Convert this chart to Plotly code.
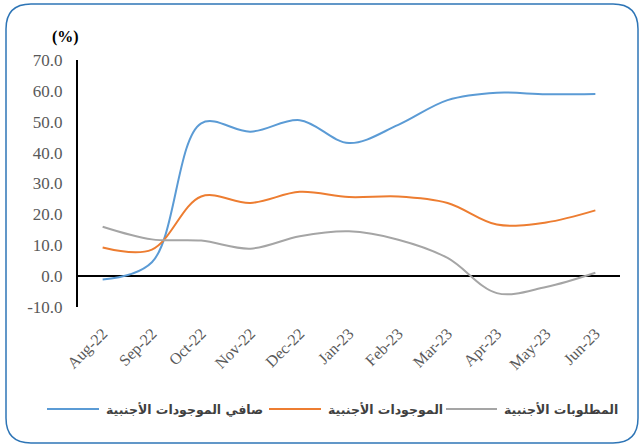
import plotly.graph_objects as go

months = ["Aug-22", "Sep-22", "Oct-22", "Nov-22", "Dec-22", "Jan-23",
          "Feb-23", "Mar-23", "Apr-23", "May-23", "Jun-23"]
net_assets = [-1.1, 4.5, 49.5, 46.8, 50.5, 43.1, 49.0, 57.0, 59.4, 58.9, 59.0]
assets = [9.3, 8.6, 25.8, 23.7, 27.3, 25.6, 25.8, 23.7, 16.7, 17.4, 21.3]
liabilities = [16.0, 11.9, 11.5, 8.9, 12.9, 14.5, 11.8, 5.9, -5.5, -3.5, 1.1]

names = ["صافي الموجودات الأجنبية", "الموجودات الأجنبية", "المطلوبات الأجنبية"]
colors = ["#5B9BD5", "#ED7D31", "#A5A5A5"]

y_tickvals = [-10, 0, 10, 20, 30, 40, 50, 60, 70]
y_ticktext = ["-10.0", "0.0", "10.0", "20.0", "30.0", "40.0", "50.0", "60.0", "70.0"]

SERIF = "Liberation Serif"

W, H = 643, 446
ML, MR, MT, MB = 78, 23, 60, 139
PW = W - ML - MR
PH = H - MT - MB

def px(x):
    return (x - ML) / PW

def py(y):
    return (H - MB - y) / PH

fig = go.Figure()
for vals, name, col in zip([net_assets, assets, liabilities], names, colors):
    fig.add_trace(go.Scatter(
        x=months, y=vals, name=name, mode="lines",
        line=dict(color=col, width=2, shape="spline", smoothing=1),
    ))

# rounded border
L, T, R, B, r = 6, 4, 638, 443, 25
path = (
    f"M {px(L)},{py(T + r)} "
    f"Q {px(L)},{py(T)} {px(L + r)},{py(T)} "
    f"L {px(R - r)},{py(T)} "
    f"Q {px(R)},{py(T)} {px(R)},{py(T + r)} "
    f"L {px(R)},{py(B - r)} "
    f"Q {px(R)},{py(B)} {px(R - r)},{py(B)} "
    f"L {px(L + r)},{py(B)} "
    f"Q {px(L)},{py(B)} {px(L)},{py(B - r)} Z"
)
fig.add_shape(type="path", path=path, xref="paper", yref="paper",
              line=dict(color="#2E75B6", width=1.5), layer="below")

fig.add_annotation(text="<b>(%)</b>", xref="paper", yref="paper",
                   x=px(50), y=py(26), showarrow=False,
                   font=dict(family=SERIF, size=16, color="#000000"))

# legend drawn as line samples + labels (line to the left of each label)
legend_y = 409
legend_line_x = [(47, 99), (269, 321), (446, 497)]
for (x0, x1), name, col in zip(legend_line_x, names, colors):
    fig.add_shape(type="line", xref="paper", yref="paper",
                  x0=px(x0), x1=px(x1), y0=py(legend_y), y1=py(legend_y),
                  line=dict(color=col, width=2))
    fig.add_annotation(text=f"<b>{name}</b>", xref="paper", yref="paper",
                       x=px(x1 + 5), y=py(legend_y), xanchor="left",
                       yanchor="middle", showarrow=False,
                       font=dict(family="DejaVu Sans", size=12.5, color="#404040"))

fig.update_layout(
    width=W, height=H,
    font=dict(family=SERIF),
    margin=dict(l=ML, r=MR, t=MT, b=MB, autoexpand=False),
    paper_bgcolor="white", plot_bgcolor="white",
    showlegend=False,
)
fig.update_xaxes(
    type="category", range=[-0.5, 10.5], showgrid=False, showline=False,
    zeroline=False, tickangle=-45, ticks="outside", ticklen=10,
    tickcolor="rgba(0,0,0,0)", automargin=False,
    tickfont=dict(family=SERIF, size=16, color="#595959"),
)
fig.update_yaxes(
    range=[-10, 70], tickvals=y_tickvals, ticktext=y_ticktext,
    showgrid=False, showline=True, linecolor="black", linewidth=2,
    zeroline=True, zerolinecolor="black", zerolinewidth=2,
    ticks="outside", ticklen=10, tickcolor="rgba(0,0,0,0)", automargin=False,
    tickfont=dict(family=SERIF, size=17, color="#595959"),
)
fig.write_html("out.html", config={"displayModeBar": False},
               post_script="document.body.style.margin='0';document.body.style.padding='0';")
